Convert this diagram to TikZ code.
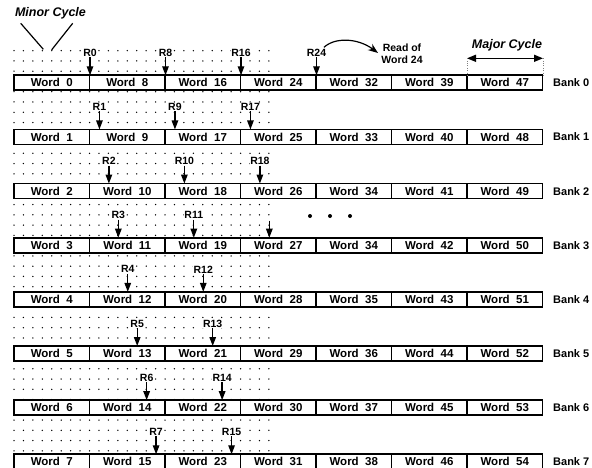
\documentclass[tikz,border=0pt]{standalone}
\usepackage{fontspec}
\setmainfont{Liberation Sans}
\usetikzlibrary{arrows.meta}
\begin{document}
\begin{tikzpicture}[x=1pt,y=-1pt,
  cell/.style={draw, fill=white, line width=1.6pt, minimum width=75.5pt, minimum height=15pt,
    inner sep=0pt, outer sep=0pt, font=\bfseries\fontsize{11.5}{12}\selectfont},
  banklab/.style={font=\bfseries\fontsize{11}{12}\selectfont, anchor=west, inner sep=0pt},
  rlab/.style={font=\bfseries\fontsize{10.5}{11}\selectfont, fill=white, inner sep=0.6pt},
  arr/.style={line width=1.3pt, -{Triangle[length=9pt,width=6.5pt]}},
  cyc/.style={font=\bfseries\itshape\fontsize{12.5}{14}\selectfont, inner sep=0pt},
  note/.style={font=\bfseries\fontsize{10.5}{12.5}\selectfont, align=center, inner sep=0pt}]
\useasboundingbox (0,0) rectangle (592,468);
% dot grid
\foreach \i in {0,...,27}{
  \foreach \m in {0,...,39}{
    \fill (14+9.44*\i, 50.7+10.26*\m) circle (0.75);
  }
}
% banks
\foreach \k/\a/\b/\c in {0/32/39/47,1/33/40/48,2/34/41/49,3/34/42/50,4/35/43/51,5/36/44/52,6/37/45/53,7/38/46/54}{
  \pgfmathsetmacro\T{75.3+54.14*\k}
  \pgfmathtruncatemacro\na{\k+8}
  \pgfmathtruncatemacro\nb{\k+16}
  \pgfmathtruncatemacro\nc{\k+24}
  \foreach \j/\n in {0/\k,1/\na,2/\nb,3/\nc,4/\a,5/\b,6/\c}{
    \node[cell] (w\k-\j) at (14+75.5*\j+37.75, \T+7.5) {Word~~\n};
  }
  \node[banklab] (bank\k) at (553, \T+7.5) {Bank \k};
}
% read arrows
\foreach \k/\j/\lab in {0/0/R0,0/1/R8,0/2/R16,0/3/R24,1/0/R1,1/1/R9,1/2/R17,2/0/R2,2/1/R10,2/2/R18,3/0/R3,3/1/R11,4/0/R4,4/1/R12,5/0/R5,5/1/R13,6/0/R6,6/1/R14,7/0/R7,7/1/R15}{
  \pgfmathsetmacro\T{75.3+54.14*\k}
  \pgfmathsetmacro\X{90+9.44*\k+75.5*\j}
  \node[rlab] (r\k-\j) at (\X, \T-22.5) {\lab};
  \coordinate (t\k-\j) at (\X, \T);
  \draw[arr] (r\k-\j.south) -- (t\k-\j);
}
% unlabeled arrow in bank 3
\coordinate (u3s) at (90+9.44*3+151, 75.3+54.14*3-17);
\coordinate (u3t) at (90+9.44*3+151, 75.3+54.14*3);
\draw[arr] (u3s) -- (u3t);
% ellipsis
\foreach \x in {310,330,350}{ \fill (\x,216) circle (2); }
% minor cycle
\node[cyc] (minor) at (50.5,13) {Minor Cycle};
\coordinate (m1) at (43.3,49.3);
\coordinate (m2) at (51.7,49.8);
\draw[line width=1.2pt] (20.7,23.3) -- (m1);
\draw[line width=1.2pt] (72.7,23.3) -- (m2);
% major cycle
\node[cyc] (major) at (507,45) {Major Cycle};
\coordinate (ma) at (467,58.3);
\coordinate (mb) at (543,58.3);
\draw[line width=1.5pt, {Triangle[length=9pt,width=7pt]}-{Triangle[length=9pt,width=7pt]}] (ma) -- (mb);
\draw[gray, dotted, line width=0.4pt] (ma) -- (467,75.3);
\draw[gray, dotted, line width=0.4pt] (mb) -- (543,75.3);
% read of word 24
\node[note] (rd) at (402,53.5) {Read of\\Word 24};
\coordinate (rdtip) at (378,53);
\draw[line width=1.2pt, -{Stealth[length=10pt,width=7.5pt]}] (r0-3.north east) ++(-3,-1) .. controls (335,37) and (358,38) .. (rdtip);
\end{tikzpicture}
\end{document}
